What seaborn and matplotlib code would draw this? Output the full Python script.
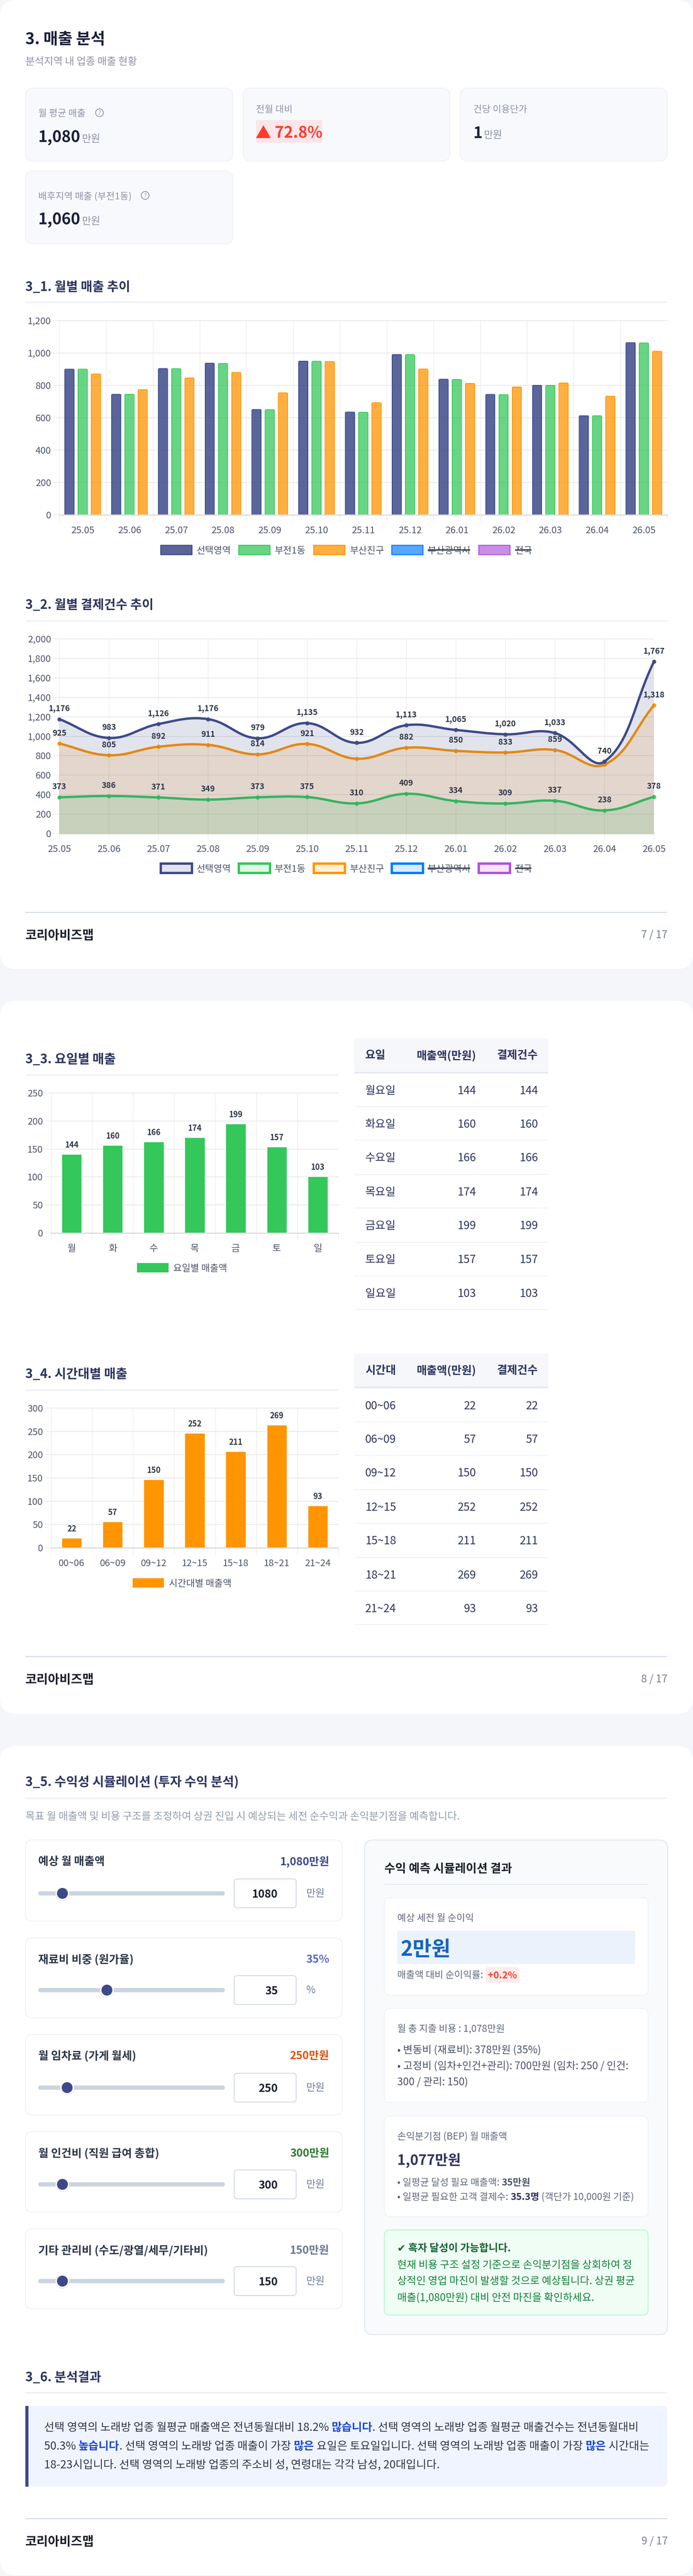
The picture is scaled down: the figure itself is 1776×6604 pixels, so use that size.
import numpy as np
import pandas as pd
import seaborn as sns
import matplotlib
matplotlib.use("Agg")
import matplotlib.pyplot as plt
from matplotlib.patches import FancyBboxPatch, Rectangle, Polygon, PathPatch, Circle
from matplotlib.path import Path
from matplotlib.colors import to_rgba

# data
months = ['25.05', '25.06', '25.07', '25.08', '25.09', '25.10', '25.11', '25.12', '26.01', '26.02', '26.03', '26.04', '26.05']
sales_selected = [900, 745, 904, 937, 651, 950, 635, 991, 838, 744, 801, 613, 1064]
sales_bujeon = [900, 745, 903, 936, 650, 949, 634, 990, 837, 743, 800, 612, 1062]
sales_busanjin = [871, 774, 846, 880, 754, 948, 693, 901, 813, 790, 815, 733, 1011]

pay_selected = [1176, 983, 1126, 1176, 979, 1135, 932, 1113, 1065, 1020, 1033, 740, 1767]
pay_busanjin = [925, 805, 892, 911, 814, 921, 769, 882, 850, 833, 859, 709, 1318]
pay_bujeon = [373, 386, 371, 349, 373, 375, 310, 409, 334, 309, 337, 238, 378]
busanjin_hidden_labels = ['25.11', '26.04']

legend_names = ['선택영역', '부전1동', '부산진구', '부산광역시', '전국']

days = ['월', '화', '수', '목', '금', '토', '일']
day_names = ['월요일', '화요일', '수요일', '목요일', '금요일', '토요일', '일요일']
day_labels = [144, 160, 166, 174, 199, 157, 103]
day_heights = [141, 156.5, 163, 170.5, 195, 153.7, 101]

hours = ['00~06', '06~09', '09~12', '12~15', '15~18', '18~21', '21~24']
hour_labels = [22, 57, 150, 252, 211, 269, 93]
hour_heights = [21, 55.8, 147, 246.6, 206.7, 263.6, 90.4]

# colours
NAVY = '#3d4a8a'
GREEN = '#34c759'
ORANGE = '#ff9500'
BLUE = '#007aff'
PURPLE = '#af52de'
INK = '#2d3561'
SLATE = '#4a5568'
GRID = '#e8e8e8'
KR = 'Noto Sans CJK KR'

W, H = 1776, 6604
sns.set_theme(style='white')
plt.rcParams['font.family'] = [KR, 'DejaVu Sans']
plt.rcParams['axes.unicode_minus'] = False

fig = plt.figure(figsize=(W / 100, H / 100), dpi=100, facecolor='#f5f6fa')
bg = fig.add_axes([0, 0, 1, 1], zorder=0)
bg.set_xlim(0, W)
bg.set_ylim(H, 0)
bg.axis('off')
renderer = fig.canvas.get_renderer()


def pt(px):
    return px * 0.72


def rbox(x0, y0, x1, y1, r, fc, ec='none', lw=0, z=1):
    p = FancyBboxPatch((x0, y0), x1 - x0, y1 - y0, boxstyle=f'round,pad=0,rounding_size={r}',
                       fc=fc, ec=ec, lw=pt(lw), zorder=z)
    bg.add_patch(p)
    return p


def txt(x, y, s, size, color=SLATE, weight='normal', ha='left', va='center', z=5):
    if va == 'center':
        y += size * 0.1  # matplotlib centres a bit high for this font
    return bg.text(x, y, s, fontsize=pt(size), color=color, fontweight=weight, ha=ha, va=va, zorder=z)


def text_w(s, size, weight='normal'):
    # measure with a stopper so that trailing spaces count
    a = bg.text(0, 0, s + '|', fontsize=pt(size), fontweight=weight)
    b = bg.text(0, 0, '|', fontsize=pt(size), fontweight=weight)
    w = a.get_window_extent(renderer).width - b.get_window_extent(renderer).width
    a.remove()
    b.remove()
    return w


def runs(x, y, parts, size):
    for s, color, weight in parts:
        txt(x, y, s, size, color, weight, va='baseline')
        x += text_w(s, size, weight)


def section(y_text, y_rule, s, x1=1710):
    txt(65, y_text, s, 32.5, INK, 'bold')
    bg.add_patch(Rectangle((65, y_rule - 2), x1 - 65, 4, fc='#f0f1f5', ec='none', zorder=2))


def footer(y_rule, y_text, page):
    bg.add_patch(Rectangle((65, y_rule - 1.25), 1645, 2.5, fc='#ccd5e0', ec='none', zorder=2))
    txt(65, y_text - 2, '코리아비즈맵', 32, '#1a202c', 'bold')
    txt(1711, y_text - 2.7, page, 27, '#718096', ha='right')


def make_axes(x0, y0, x1, y1):
    ax = fig.add_axes([x0 / W, 1 - y1 / H, (x1 - x0) / W, (y1 - y0) / H], zorder=2)
    ax.patch.set_alpha(0)
    for s in ax.spines.values():
        s.set_visible(False)
    return ax


def style_axes(ax, yticks, size, tick_px=16):
    ax.set_ylim(yticks[0], yticks[-1])
    ax.set_yticks(yticks, [f'{v:,}' for v in yticks])
    ax.set_xlabel('')
    ax.set_ylabel('')
    ax.set_axisbelow(True)
    ax.grid(axis='y', color=GRID, lw=pt(2))
    for g in ax.get_ygridlines():
        g.set_clip_on(False)
    ax.tick_params(axis='y', length=pt(tick_px), width=pt(1.5), color=GRID, pad=pt(5),
                   labelsize=pt(size), labelcolor=SLATE, left=True)
    ax.axhline(0, color='#dcdcdc', lw=pt(3), zorder=1.5, clip_on=False)


def bar_xaxis(ax, labels, size, pad=29):
    n = len(labels)
    ax.set_xlim(-0.5, n - 0.5)
    ax.set_xticks(range(n), labels)
    ax.set_xticks(np.arange(n + 1) - 0.5, minor=True)
    ax.tick_params(axis='x', which='major', length=0, pad=pt(pad), labelsize=pt(size), labelcolor=SLATE, bottom=True)
    ax.tick_params(axis='x', which='minor', length=pt(17), width=pt(1.2), color=GRID, bottom=True)
    ax.grid(axis='x', which='minor', color=GRID, lw=pt(1.2))
    ax.grid(axis='x', which='major', visible=False)


def round_tops(ax, px_w, px_h, r_px=4):
    # cut the top corners of the seaborn bars
    ux = (ax.get_xlim()[1] - ax.get_xlim()[0]) / px_w
    uy = (ax.get_ylim()[1] - ax.get_ylim()[0]) / px_h
    for bar in ax.patches:
        x0, w, h = bar.get_x(), bar.get_width(), bar.get_height()
        clip = FancyBboxPatch((x0 - ux, -50 * uy), w + 2 * ux, h + 50 * uy + uy,
                              boxstyle=f'round,pad=0,rounding_size={r_px * ux}', mutation_aspect=uy / ux,
                              transform=ax.transData)
        bar.set_clip_path(clip)


def curve_path(xs, ys, sx, sy, tension=0.4):
    # smooth curve through the points, control points worked out in pixel space
    xp = np.array(xs, float) * sx
    yp = np.array(ys, float) * sy
    n = len(xp)
    verts = [(xs[0], ys[0])]
    codes = [Path.MOVETO]
    cps = []
    for i in range(n):
        a = max(i - 1, 0)
        b = min(i + 1, n - 1)
        d01 = np.hypot(xp[i] - xp[a], yp[i] - yp[a])
        d12 = np.hypot(xp[b] - xp[i], yp[b] - yp[i])
        tot = d01 + d12
        s01 = d01 / tot if tot else 0
        s12 = d12 / tot if tot else 0
        dx, dy = xp[b] - xp[a], yp[b] - yp[a]
        cps.append(((xp[i] - tension * s01 * dx, yp[i] - tension * s01 * dy),
                    (xp[i] + tension * s12 * dx, yp[i] + tension * s12 * dy)))
    for i in range(n - 1):
        c1 = cps[i][1]
        c2 = cps[i + 1][0]
        verts += [(c1[0] / sx, c1[1] / sy), (c2[0] / sx, c2[1] / sy), (xs[i + 1], ys[i + 1])]
        codes += [Path.CURVE4] * 3
    return verts, codes


# pages
for y0, y1 in [(0, 2486), (2566, 4396), (4476, 6604)]:
    bg.add_patch(FancyBboxPatch((-1, y0), W + 2, y1 - y0, boxstyle='round,pad=0,rounding_size=40',
                                fc='#f0f1f5', ec='none', zorder=0.5, alpha=0.6))
    rbox(0, y0, W, y1 - 1.5, 40, 'white', z=0.6)

# ---- page 7 ----
txt(65, 97, '3. 매출 분석', 40.5, '#1a2038', 'bold')
txt(65, 156, '분석지역 내 업종 매출 현황', 26, '#8a94a6')

CARD = '#f8f9fc'
CARD_E = '#eef0f5'
for x0, x1, y0, y1 in [(65, 597, 226, 413), (623, 1153, 226, 413), (1179, 1710, 226, 413), (65, 597, 438, 625)]:
    rbox(x0, y0, x1, y1, 20, CARD, CARD_E, 2, z=1)


def help_icon(x, y):
    bg.add_patch(Circle((x, y), 10, fc='none', ec='#8a94a6', lw=pt(2), zorder=5))
    txt(x, y - 1, '?', 15, '#8a94a6', ha='center')


def money(x, base, value, vsize=40.5):
    txt(x, base, value, vsize, '#1a2038', 'bold', va='baseline')
    txt(x + text_w(value, vsize, 'bold') + 3, base, '만원', 26, '#8a94a6', va='baseline')


txt(98, 289, '월 평균 매출', 24, '#8a94a6')
help_icon(255, 289)
money(98, 364, '1,080')
txt(656, 279, '전월 대비', 24, '#8a94a6')
bg.add_patch(Rectangle((656, 308), 170, 58, fc='#fae6e8', ec='none', zorder=2))
bg.add_patch(Polygon([(656, 354), (694, 354), (675, 321)], fc='#ff3b30', ec='none', zorder=3))
txt(704, 353, '72.8%', 40, '#ff3b30', 'bold', va='baseline')
txt(1213, 279, '건당 이용단가', 24, '#8a94a6')
money(1213, 354, '1')
txt(98, 501, '배후지역 매출 (부전1동)', 24, '#8a94a6')
help_icon(372, 501)
money(98, 575, '1,060')

# 3_1 bars
section(733, 775, '3_1. 월별 매출 추이')
ax1 = make_axes(152, 822, 1710, 1320)
df_sales = pd.DataFrame({
    'month': months * 3,
    'value': sales_selected + sales_bujeon + sales_busanjin,
    'series': sum([[n] * len(months) for n in legend_names[:3]], []),
})
sns.barplot(data=df_sales, x='month', y='value', hue='series', hue_order=legend_names[:3],
            palette=[NAVY, GREEN, ORANGE], width=0.85, gap=0.3, saturation=1, legend=False, ax=ax1)
for cont, c, a in zip(ax1.containers, [NAVY, GREEN, ORANGE], [0.85, 0.74, 0.75]):
    for bar in cont:
        bar.set_facecolor(to_rgba(c, a))
        bar.set_edgecolor(c)
        bar.set_linewidth(pt(2))
style_axes(ax1, [0, 200, 400, 600, 800, 1000, 1200], 24)
bar_xaxis(ax1, months, 24)
round_tops(ax1, 1710 - 152, 1320 - 822)


def legend(y0, y1, lw, fills):
    box_x = [412, 612, 804, 1004, 1227]
    text_x = [504, 704, 897, 1096, 1320]
    cols = [NAVY, GREEN, ORANGE, BLUE, PURPLE]
    for i, name in enumerate(legend_names):
        bg.add_patch(Rectangle((box_x[i], y0), 80, y1 - y0, fc=to_rgba(cols[i], fills[i]), ec=cols[i], lw=pt(lw), zorder=3))
        txt(text_x[i], (y0 + y1) / 2, name, 24, SLATE)
        if i >= 3:
            w = text_w(name, 24)
            bg.plot([text_x[i], text_x[i] + w - 2], [(y0 + y1) / 2] * 2, color='#3a4556', lw=pt(3.5),
                    solid_capstyle='butt', zorder=6)


legend(1398, 1422, 2.5, [0.85, 0.74, 0.75, 0.66, 0.66])

# 3_2 lines
section(1548, 1592, '3_2. 월별 결제건수 추이')
ax2 = make_axes(152, 1638, 1676, 2137)
xpos = list(range(len(months)))
sx = (1676 - 152) / 12
sy = (2137 - 1638) / 2000
z = 3
for vals, c in [(pay_busanjin, ORANGE), (pay_bujeon, GREEN), (pay_selected, NAVY)]:
    verts, codes = curve_path(xpos, vals, sx, sy)
    fill_v = verts + [(xpos[-1], 0), (xpos[0], 0), (xpos[0], vals[0])]
    fill_c = codes + [Path.LINETO, Path.LINETO, Path.CLOSEPOLY]
    ax2.add_patch(PathPatch(Path(fill_v, fill_c), fc=to_rgba(c, 0.15), ec='none', zorder=z))
    ax2.add_patch(PathPatch(Path(verts, codes), fc='none', ec=c, lw=pt(6), zorder=z + 0.1, capstyle='round', clip_on=False))
    sns.lineplot(x=months, y=vals, color=c, marker='o', markersize=pt(8), linewidth=0, sort=False,
                 errorbar=None, ax=ax2, zorder=z + 0.2, clip_on=False)
    mk = ax2.lines[-1]
    mk.set_markerfacecolor(to_rgba(c, 0.15))
    mk.set_markeredgecolor(c)
    mk.set_markeredgewidth(pt(2.5))
    z += 1
style_axes(ax2, list(range(0, 2001, 200)), 24)
ax2.set_xlim(0, 12)
ax2.set_xticks(xpos, months)
ax2.tick_params(axis='x', length=pt(15), width=pt(1.2), color=GRID, pad=pt(14), labelsize=pt(24), labelcolor=SLATE, bottom=True)
ax2.grid(axis='x', color=GRID, lw=pt(1.2))
ax2.axhline(0, color='#dcdcdc', lw=pt(2), zorder=1.5)
for vals in (pay_selected, pay_busanjin, pay_bujeon):
    for i, v in enumerate(vals):
        if vals is pay_busanjin and months[i] in busanjin_hidden_labels:
            continue
        ax2.annotate(f'{v:,}', (i, v), xytext=(0, pt(27)), textcoords='offset points', ha='center', va='center',
                     fontsize=pt(20.5), color='#2d3748', fontweight='bold', zorder=10, annotation_clip=False)
legend(2214, 2238, 6, [0.15] * 5)
footer(2339, 2398, '7 / 17')

# ---- page 8 ----


def hbars(ax, cats, heights, labels, color, yticks):
    sns.barplot(x=cats, y=heights, color=color, saturation=1, width=0.49, ax=ax)
    style_axes(ax, yticks, 24)
    bar_xaxis(ax, cats, 24)
    for i, (h, lab) in enumerate(zip(heights, labels)):
        ax.annotate(str(lab), (i, h), xytext=(0, pt(23.5)), textcoords='offset points', ha='center', va='center',
                    fontsize=pt(20), color='#2d3748', fontweight='bold', zorder=10)


def table(y_head0, y_head1, head, first_col, values, text_ys, rule_ys):
    bg.add_patch(Rectangle((908, y_head0), 497, y_head1 - y_head0, fc='#f5f7fa', ec='none', zorder=2))
    bg.add_patch(Rectangle((908, y_head1 - 1), 497, 4, fc='#e2e8f0', ec='none', zorder=2))
    yh = (y_head0 + y_head1) / 2 - 2
    txt(936, yh, head[0], 28.5, INK, 'bold')
    txt(1220, yh, head[1], 28.5, INK, 'bold', ha='right')
    txt(1379, yh, head[2], 28.5, INK, 'bold', ha='right')
    for name, v, ty, ry in zip(first_col, values, text_ys, rule_ys):
        txt(936, ty, name, 28.5, INK)
        txt(1220, ty, str(v), 28.5, INK, ha='right')
        txt(1379, ty, str(v), 28.5, INK, ha='right')
        bg.add_patch(Rectangle((908, ry - 1), 497, 2.5, fc='#edf0f4', ec='none', zorder=2))


section(2713, 2756, '3_3. 요일별 매출', x1=867)
ax3 = make_axes(131, 2802, 867, 3161)
hbars(ax3, days, day_heights, day_labels, GREEN, [0, 50, 100, 150, 200, 250])
bg.add_patch(Rectangle((351, 3238), 81, 24, fc=GREEN, ec='none', zorder=3))
txt(444, 3250, '요일별 매출액', 24, SLATE)
table(2662, 2749, ['요일', '매출액(만원)', '결제건수'], day_names, day_labels,
      [2794, 2880, 2966, 3054, 3140, 3227, 3314], [2837, 2923, 3011, 3097, 3185, 3271, 3357])

section(3520, 3564, '3_4. 시간대별 매출', x1=867)
ax4 = make_axes(131, 3610, 867, 3968)
hbars(ax4, hours, hour_heights, hour_labels, ORANGE, [0, 50, 100, 150, 200, 250, 300])
bg.add_patch(Rectangle((340, 4046), 80, 24, fc=ORANGE, ec='none', zorder=3))
txt(433, 4058, '시간대별 매출액', 24, SLATE)
table(3470, 3556, ['시간대', '매출액(만원)', '결제건수'], hours, hour_labels,
      [3602, 3688, 3774, 3862, 3948, 4036, 4122], [3645, 3731, 3819, 3905, 3993, 4079, 4165])
footer(4247, 4306, '8 / 17')

# ---- page 9 ----
section(4566, 4610, '3_5. 수익성 시뮬레이션 (투자 수익 분석)')
txt(65, 4655, '목표 월 매출액 및 비용 구조를 조정하여 상권 진입 시 예상되는 세전 순수익과 손익분기점을 예측합니다.', 26.5, '#929eae')

slider_labels = ['예상 월 매출액', '재료비 비중 (원가율)', '월 임차료 (가게 월세)', '월 인건비 (직원 급여 총합)', '기타 관리비 (수도/광열/세무/기타비)']
slider_shown = ['1,080만원', '35%', '250만원', '300만원', '150만원']
slider_input = ['1080', '35', '250', '300', '150']
slider_units = ['만원', '%', '만원', '만원', '만원']
slider_cols = [NAVY, '#5c6bc0', '#e65100', '#2e7d32', '#6b7a90']
slider_thumb = [160, 274, 172, 160, 160]
card_y = [(4717, 4925), (4968, 5173), (5216, 5422), (5465, 5671), (5714, 5919)]
label_y = [4770, 5021, 5268, 5518, 5767]
track_y = [4854, 5102, 5352, 5600, 5848]
for i, (y0, y1) in enumerate(card_y):
    rbox(65, y0, 877, y1, 18, 'white', '#edf0f4', 2, z=1)
    yl = label_y[i]
    ys = track_y[i]
    txt(98, yl, slider_labels[i], 28.5, '#2d3748', 'bold')
    txt(844, yl, slider_shown[i], 28, slider_cols[i], 'bold', ha='right')
    rbox(98, ys - 5.5, 576, ys + 5.5, 5, '#cbd5e0', z=2)
    bg.add_patch(Circle((slider_thumb[i], ys + 1), 18, fc='#e2e2e2', ec='none', zorder=3))
    bg.add_patch(Circle((slider_thumb[i], ys), 17.5, fc='white', ec='none', zorder=3.1))
    bg.add_patch(Circle((slider_thumb[i], ys), 14, fc=NAVY, ec='none', zorder=4))
    rbox(600, ys - 37, 759, ys + 37, 8, 'white', '#cbd5e0', 2, z=2)
    txt(712, ys, slider_input[i], 28, '#1a202c', 'bold', ha='right')
    txt(785, ys - 2.5, slider_units[i], 26, '#718096')

rbox(934, 4717, 1711, 5985, 22, '#f8fafc', '#e2e8f0', 2.5, z=1)
txt(985, 4788, '수익 예측 시뮬레이션 결과', 30.3, '#1a202c', 'bold')
bg.add_patch(Rectangle((985, 4830), 677, 2, fc='#e2e8f0', ec='none', zorder=2))
for y0, y1 in [(4865, 5115), (5149, 5390), (5425, 5683)]:
    rbox(985, y0, 1661, y1, 16, 'white', '#edf2f7', 2, z=2)
GRAY = '#5f6b7d'
txt(1018, 4916, '예상 세전 월 순이익', 24.5, GRAY)
rbox(1018, 4950, 1628, 5035, 6, '#ebf2fb', z=3)
txt(1026, 5013.5, '2만원', 53, '#1565c0', 'bold', va='baseline')
txt(1018, 5062, '매출액 대비 순이익률:', 24.5, GRAY)
rbox(1244, 5043, 1331, 5083, 8, '#fdecea', z=3)
txt(1287.5, 5063, '+0.2%', 24.5, '#ff3b30', 'bold', ha='center')
txt(1018, 5200, '월 총 지출 비용 : 1,078만원', 24.5, GRAY)
txt(1018, 5253, '• 변동비 (재료비): 378만원 (35%)', 26.5, SLATE)
txt(1018, 5294, '• 고정비 (임차+인건+관리): 700만원 (임차: 250 / 인건:', 26.5, SLATE)
txt(1018, 5335, '300 / 관리: 150)', 26.5, SLATE)
txt(1018, 5476, '손익분기점 (BEP) 월 매출액', 24.5, GRAY)
txt(1018, 5535, '1,077만원', 36, INK, 'bold')
runs(1018, 5603, [('• 일평균 달성 필요 매출액: ', GRAY, 'normal'), ('35만원', SLATE, 'bold')], 24.4)
runs(1018, 5640, [('• 일평균 필요한 고객 결제수: ', GRAY, 'normal'), ('35.3명', INK, 'bold'),
                  (' (객단가 10,000원 기준)', GRAY, 'normal')], 24.4)
rbox(985, 5717, 1661, 5935, 14, '#f0fdf4', '#bbf7d0', 2.5, z=2)
txt(1018, 5762, '✔ 흑자 달성이 가능합니다.', 26.4, '#166534', 'bold')
green_lines = ['현재 비용 구조 설정 기준으로 손익분기점을 상회하여 정',
               '상적인 영업 마진이 발생할 것으로 예상됩니다. 상권 평균',
               '매출(1,080만원) 대비 안전 마진을 확인하세요.']
for yy, line in zip([5805, 5846, 5888], green_lines):
    txt(1018, yy, line, 26.5, '#15803d')

section(6092, 6134, '3_6. 분석결과')
rbox(65, 6168, 1710, 6375, 14, '#f0f4ff', z=2)
bg.add_patch(Rectangle((65, 6168), 8, 207, fc=NAVY, ec='none', zorder=3))
NT = '#2d3748'
HL = '#1a47d6'
runs(113, 6232, [('선택 영역의 노래방 업종 월평균 매출액은 전년동월대비 18.2% ', NT, 'normal'), ('많습니다', HL, 'bold'),
                 ('. 선택 영역의 노래방 업종 월평균 매출건수는 전년동월대비', NT, 'normal')], 28.5)
runs(113, 6280, [('50.3% ', NT, 'normal'), ('높습니다', HL, 'bold'), ('. 선택 영역의 노래방 업종 매출이 가장 ', NT, 'normal'),
                 ('많은', HL, 'bold'), (' 요일은 토요일입니다. 선택 영역의 노래방 업종 매출이 가장 ', NT, 'normal'),
                 ('많은', HL, 'bold'), (' 시간대는', NT, 'normal')], 28.5)
runs(113, 6328, [('18-23시입니다. 선택 영역의 노래방 업종의 주소비 성, 연령대는 각각 남성, 20대입니다.', NT, 'normal')], 28.5)
footer(6457, 6516, '9 / 17')

fig.savefig('out.png', dpi=100, facecolor=fig.get_facecolor())
